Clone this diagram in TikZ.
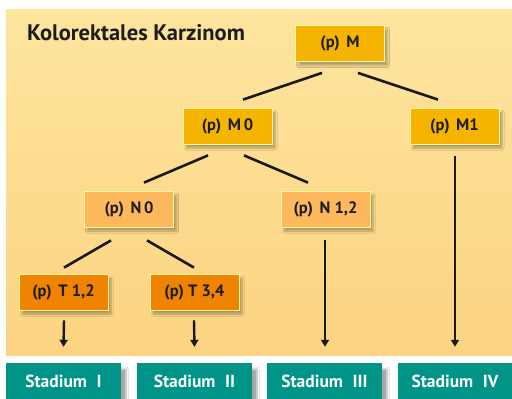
\documentclass[tikz,border=0pt]{standalone}
\usepackage{fontspec}
\setmainfont{PT Sans}
\usetikzlibrary{shadows.blur,arrows.meta,calc}
\definecolor{bgtop}{RGB}{253,229,158}
\definecolor{bgbot}{RGB}{252,211,130}
\definecolor{goldbox}{RGB}{245,180,0}
\definecolor{lightorange}{RGB}{253,183,92}
\definecolor{darkorange}{RGB}{240,131,0}
\definecolor{tealbox}{RGB}{0,148,136}
\definecolor{txt}{RGB}{28,28,28}
\begin{document}
\begin{tikzpicture}[x=1pt,y=-1pt,
  box/.style={draw=white!60!yellow, line width=0.8pt, minimum width=89pt, minimum height=36pt,
    inner sep=0pt, font=\bfseries\fontsize{16.5}{18}\selectfont, text=txt,
    blur shadow={shadow xshift=3pt, shadow yshift=-4pt, shadow opacity=30, shadow blur steps=6}},
  goldnode/.style={box, fill=goldbox},
  lightnode/.style={box, fill=lightorange},
  darknode/.style={box, fill=darkorange},
  stagebox/.style={fill=tealbox, minimum width=115pt, minimum height=36pt, inner sep=0pt,
    font=\bfseries\fontsize{17.5}{19}\selectfont, text=white,
    blur shadow={shadow xshift=5pt, shadow yshift=-6pt, shadow opacity=35, shadow blur steps=4}},
  link/.style={line width=2.6pt, black!90},
  arr/.style={line width=2.4pt, black!90, -{Triangle[length=7pt,width=8pt]}}
]
\useasboundingbox (0,0) rectangle (512,399);
\fill[white] (0,0) rectangle (512,399);
\shade[top color=bgtop, bottom color=bgbot] (6,9) rectangle (512,355);

\node[anchor=west, inner sep=0pt, font=\bfseries\fontsize{22.5}{24}\selectfont, text=txt] (title) at (27,33) {Kolorektales Karzinom};

\node[goldnode] (M) at (340,43.5) {(p)\hspace{0.4em}M};
\node[goldnode] (M0) at (227.5,126) {(p)\hspace{0.4em}M\,0};
\node[goldnode] (M1) at (454.5,126) {(p)\hspace{0.4em}M1};
\node[lightnode] (N0) at (129,209) {(p)\hspace{0.4em}N\,0};
\node[lightnode] (N12) at (325.5,209) {(p)\hspace{0.4em}N 1,2};
\node[darknode] (T12) at (63.5,292) {(p)\hspace{0.4em}T 1,2};
\node[darknode] (T34) at (194.5,292) {(p) T 3,4};

\node[stagebox] (S1) at (63.5,381) {Stadium\hspace{0.55em}I};
\node[stagebox] (S2) at (194.5,381) {Stadium\hspace{0.55em}II};
\node[stagebox] (S3) at (324.5,381) {Stadium\hspace{0.55em}III};
\node[stagebox] (S4) at (455,381) {Stadium\hspace{0.55em}IV};

\draw[link] ($(M.south)+(-18,11)$) -- ($(M0.north)+(15.5,-8)$);
\draw[link] ($(M.south)+(18,11)$) -- ($(M1.north)+(-16.5,-8)$);
\draw[link] ($(M0.south)+(-19.5,11)$) -- ($(N0.north)+(15,-8)$);
\draw[link] ($(M0.south)+(16.5,11)$) -- ($(N12.north)+(-17.5,-8)$);
\draw[link] ($(N0.south)+(-18,13)$) -- ($(T12.north)+(0.5,-6)$);
\draw[link] ($(N0.south)+(18,13)$) -- ($(T34.north)+(-0.5,-6)$);

\draw[arr] ($(T12.south)+(0.5,10)$) -- ($(S1.north)+(0,-16)$);
\draw[arr] ($(T34.south)+(-0.5,10)$) -- ($(S2.north)+(0,-16)$);
\draw[arr] ($(N12.south)+(-0.5,13)$) -- ($(S3.north)+(0.5,-16)$);
\draw[arr] ($(M1.south)+(0.5,12)$) -- ($(S4.north)+(0,-16)$);
\end{tikzpicture}
\end{document}
